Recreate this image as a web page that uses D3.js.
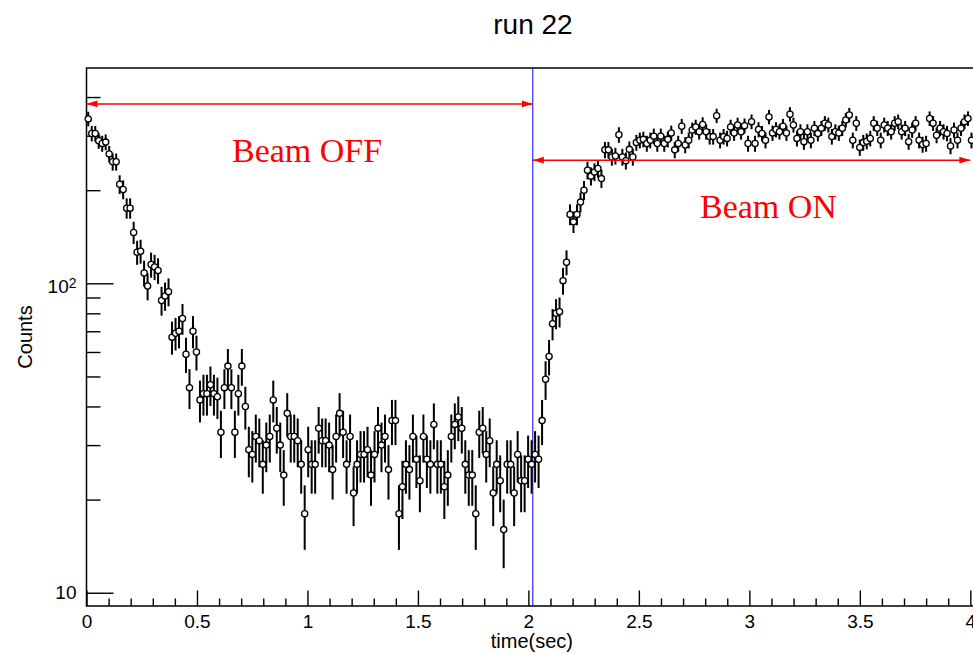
<!DOCTYPE html>
<html>
<head>
<meta charset="utf-8">
<script src="https://cdn.jsdelivr.net/npm/d3@7"></script>
<style>
  html, body { margin: 0; padding: 0; background: #fff; overflow: hidden; }
  svg { font-family: "Liberation Sans", Arial, sans-serif; }
</style>
</head>
<body>
<div id="chart-area"></div>
<script>
// counts per time bin (bin width in seconds)
const binWidth = 0.0158;
const counts = [
  340, 305, 305, 289, 283, 286, 262, 247, 247, 209,
  201, 175, 175, 146, 126, 127, 108, 98, 115, 113,
  110, 88, 91, 94, 67, 69, 70, 77, 59, 46,
  70, 60, 42, 44, 44, 47, 44, 43, 33, 46,
  54, 46, 33, 44, 54, 40, 29, 28, 32, 31,
  26, 30, 32, 42, 34, 30, 24, 38, 32, 32,
  31, 26, 18, 29, 26, 26, 34, 31, 31, 30,
  25, 32, 38, 33, 26, 32, 21,
  26, 28, 28, 29, 24, 28, 34, 30, 32, 25,
  36, 36, 18, 22, 26, 25, 32, 27, 23, 32,
  27, 26, 35, 26, 26, 22, 24, 32, 35, 37,
  34, 26, 24, 24, 18, 33, 34, 28, 31, 21,
  26, 23, 16, 26, 26, 21, 28, 23, 23, 27,
  26, 28, 27,
  36, 49, 58, 74, 80, 81, 102, 117, 167, 158,
  167, 183, 200, 232, 222, 229, 235, 218, 270, 270,
  256, 258, 302, 256, 249, 271, 256, 285, 290, 292,
  283, 290, 299, 283, 299, 283, 292, 306, 270, 283,
  322, 280, 290, 313, 320, 309, 326, 309, 298, 298,
  348, 290, 298, 294, 320, 306, 325, 309, 323, 283,
  333, 283, 314, 305, 290, 345, 306, 314, 309, 322,
  306, 352, 325, 294, 309, 287, 309,
  290, 317, 305, 317, 329, 325, 298, 309, 306, 317,
  337, 350, 290, 329, 275, 285, 288, 294, 329, 317,
  290, 325, 317, 309, 329, 333, 309, 317, 287, 313,
  329, 290, 281, 283, 341, 329, 301, 317, 309, 305,
  278, 313, 290, 317, 333, 341, 290
];

const xMajorTicks = [0, 0.5, 1, 1.5, 2, 2.5, 3, 3.5, 4];
const xMinorTicks = [0.1, 0.2, 0.3, 0.4, 0.6, 0.7, 0.8, 0.9, 1.1, 1.2, 1.3, 1.4,
  1.6, 1.7, 1.8, 1.9, 2.1, 2.2, 2.3, 2.4, 2.6, 2.7, 2.8, 2.9, 3.1, 3.2, 3.3, 3.4,
  3.6, 3.7, 3.8, 3.9, 4.1];
const yMajorTicks = [10, 100];
const yMinorTicks = [20, 30, 40, 50, 60, 70, 80, 90, 200, 300, 400];

const beamSwitch = 2.02;
const beamOffLevel = 380;
const beamOnLevel = 250;
const beamOnEnd = 4.0;

const sansFont = '"Liberation Sans", Arial, sans-serif';
const serifFont = '"Liberation Serif", "Times New Roman", serif';

const margin = {left: 86.5, top: 68};
const width = 928;
const height = 538;

const svg = d3.select('#chart-area').append('svg')
  .attr('width', 973)
  .attr('height', 654);

const defs = svg.append('defs');
defs.append('marker')
  .attr('id', 'arrow')
  .attr('markerUnits', 'userSpaceOnUse')
  .attr('markerWidth', 11)
  .attr('markerHeight', 8)
  .attr('refX', 11)
  .attr('refY', 4)
  .attr('orient', 'auto-start-reverse')
  .append('path')
  .attr('d', 'M0,0.6 L11,4 L0,7.4 Z')
  .attr('fill', 'red');

const canvas = svg.append('g')
  .attr('transform', `translate(${margin.left}, ${margin.top})`);

const x = d3.scaleLinear()
  .domain([0, 4.2])
  .range([0, width]);

const y = d3.scaleLog()
  .domain([9.06, 496.5])
  .range([height, 0]);

// axes, ticks pointing into the frame like ROOT
const xAxisMajor = canvas.append('g')
  .attr('transform', `translate(0, ${height})`)
  .call(d3.axisBottom(x).tickValues(xMajorTicks).tickSizeInner(-15.5).tickSizeOuter(0)
    .tickPadding(9).tickFormat(d => String(d)));
const xAxisMinor = canvas.append('g')
  .attr('transform', `translate(0, ${height})`)
  .call(d3.axisBottom(x).tickValues(xMinorTicks).tickSizeInner(-7.5).tickSizeOuter(0)
    .tickFormat(''));

const yAxisMajor = canvas.append('g')
  .call(d3.axisLeft(y).tickValues(yMajorTicks).tickSizeInner(-27).tickSizeOuter(0)
    .tickPadding(10).tickFormat(d => String(d)));
const yAxisMinor = canvas.append('g')
  .call(d3.axisLeft(y).tickValues(yMinorTicks).tickSizeInner(-14).tickSizeOuter(0)
    .tickFormat(''));

[xAxisMajor, xAxisMinor, yAxisMajor, yAxisMinor].forEach(g => {
  g.attr('font-family', null).attr('font-size', null);
  g.select('.domain').remove();
  g.selectAll('line').attr('stroke', '#000').attr('stroke-width', 1.4);
  g.selectAll('text')
    .attr('fill', '#000')
    .style('font-size', '19px')
    .style('font-family', sansFont);
});

// 10^2 label
yAxisMajor.selectAll('.tick text')
  .filter(d => d === 100)
  .text('10')
  .attr('dy', '0.5em')
  .append('tspan')
  .attr('dy', -5)
  .style('font-size', '14px')
  .text('2');

// frame
canvas.append('rect')
  .attr('x', 0)
  .attr('y', 0)
  .attr('width', width)
  .attr('height', height)
  .attr('fill', 'none')
  .attr('stroke', '#000')
  .attr('stroke-width', 1.5);

// beam switch line
canvas.append('line')
  .attr('x1', x(beamSwitch))
  .attr('x2', x(beamSwitch))
  .attr('y1', 0)
  .attr('y2', height)
  .attr('stroke', '#0000ff')
  .attr('stroke-width', 1);

// data: error bars + open markers
const points = counts.map((c, i) => ({t: (i + 0.5) * binWidth, c: c, e: Math.sqrt(c)}));

canvas.append('g').selectAll('line')
  .data(points)
  .enter()
  .append('line')
  .attr('x1', d => x(d.t))
  .attr('x2', d => x(d.t))
  .attr('y1', d => y(d.c + d.e))
  .attr('y2', d => y(Math.max(d.c - d.e, 9.06)))
  .attr('stroke', '#000')
  .attr('stroke-width', 2);

canvas.append('g').selectAll('circle')
  .data(points)
  .enter()
  .append('circle')
  .attr('cx', d => x(d.t))
  .attr('cy', d => y(d.c))
  .attr('r', 3.1)
  .attr('fill', '#fff')
  .attr('stroke', '#000')
  .attr('stroke-width', 1.3);

// beam arrows
canvas.append('line')
  .attr('x1', x(0))
  .attr('x2', x(beamSwitch))
  .attr('y1', y(beamOffLevel))
  .attr('y2', y(beamOffLevel))
  .attr('stroke', 'red')
  .attr('stroke-width', 1.6)
  .attr('marker-start', 'url(#arrow)')
  .attr('marker-end', 'url(#arrow)');

canvas.append('line')
  .attr('x1', x(beamSwitch))
  .attr('x2', x(beamOnEnd))
  .attr('y1', y(beamOnLevel))
  .attr('y2', y(beamOnLevel))
  .attr('stroke', 'red')
  .attr('stroke-width', 1.6)
  .attr('marker-start', 'url(#arrow)')
  .attr('marker-end', 'url(#arrow)');

svg.append('text')
  .attr('x', 232)
  .attr('y', 162)
  .attr('fill', 'red')
  .style('font-size', '34px')
  .style('font-family', serifFont)
  .text('Beam OFF');

svg.append('text')
  .attr('x', 700)
  .attr('y', 218)
  .attr('fill', 'red')
  .style('font-size', '34px')
  .style('font-family', serifFont)
  .text('Beam ON');

// titles
svg.append('text')
  .attr('x', 533)
  .attr('y', 34)
  .attr('text-anchor', 'middle')
  .style('font-size', '28px')
  .text('run 22');

svg.append('text')
  .attr('x', 573)
  .attr('y', 648)
  .attr('text-anchor', 'end')
  .style('font-size', '20px')
  .text('time(sec)');

svg.append('text')
  .attr('transform', 'translate(32, 337) rotate(-90)')
  .attr('text-anchor', 'middle')
  .style('font-size', '20px')
  .text('Counts');
</script>
</body>
</html>
